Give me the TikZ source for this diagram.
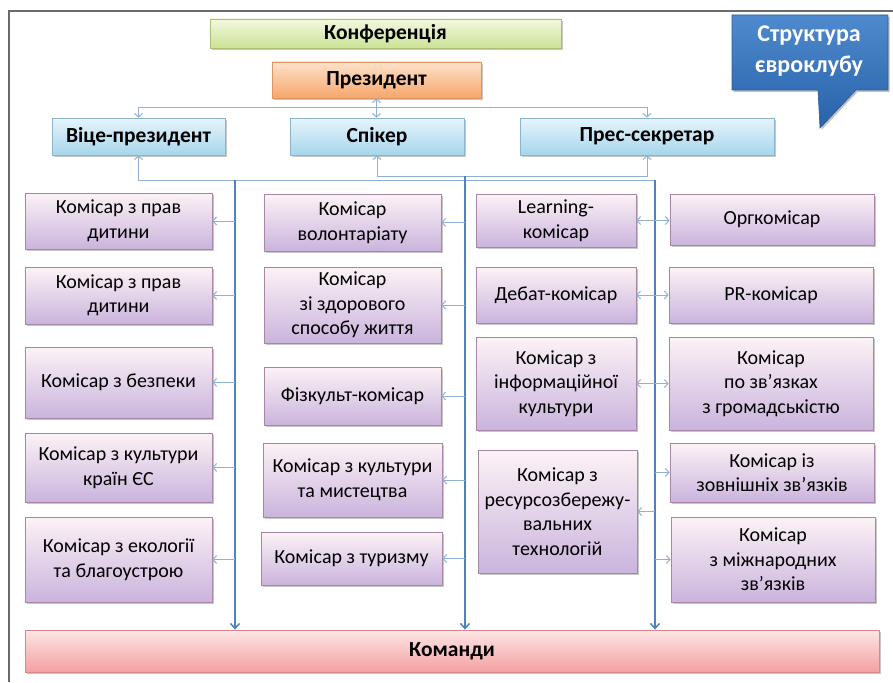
\documentclass[tikz,border=0pt]{standalone}
\usepackage{fontspec}
\setmainfont{Carlito}
\usetikzlibrary{arrows.meta,shadows}
\definecolor{brc}{HTML}{8FB1D3}
\definecolor{trc}{HTML}{4F81BD}
\definecolor{frc}{HTML}{6B6B6B}
\tikzset{
  base/.style={draw, line width=0.8pt, inner sep=2pt, align=center, text=black,
    font=\fontsize{20}{24.5}\selectfont,
    drop shadow={shadow xshift=1.6pt, shadow yshift=-1.8pt, fill=black, opacity=0.22}},
  pbox/.style={base, draw=violet!35!gray!70, top color=purple!5!white, bottom color={rgb,255:red,202;green,180;blue,221}},
  bbox/.style={base, draw={rgb,255:red,140;green,180;blue,205}, top color={rgb,255:red,230;green,244;blue,251}, bottom color={rgb,255:red,166;green,214;blue,236}, font=\fontsize{21.5}{25}\selectfont\bfseries},
  gbox/.style={base, draw={rgb,255:red,170;green,190;blue,120}, top color={rgb,255:red,243;green,248;blue,224}, bottom color={rgb,255:red,203;green,226;blue,150}, font=\fontsize{21.5}{25}\selectfont\bfseries},
  obox/.style={base, draw={rgb,255:red,220;green,150;blue,100}, top color={rgb,255:red,253;green,226;blue,202}, bottom color={rgb,255:red,246;green,166;blue,108}, font=\fontsize{21.5}{25}\selectfont\bfseries},
  kbox/.style={base, draw={rgb,255:red,215;green,135;blue,135}, top color={rgb,255:red,253;green,230;blue,230}, bottom color={rgb,255:red,243;green,160;blue,160}, font=\fontsize{21.5}{25}\selectfont\bfseries},
  br/.style={draw=brc, line width=1pt, arrows={-Straight Barb[length=3.5pt,width=8pt]}},
  brr/.style={draw=brc, line width=1pt, arrows={Straight Barb[length=3.5pt,width=8pt]-Straight Barb[length=3.5pt,width=8pt]}},
  brl/.style={draw=brc, line width=1pt},
  trunk/.style={draw=trc, line width=1.5pt, arrows={-Straight Barb[length=5pt,width=9pt]}},
}
\begin{document}
\begin{tikzpicture}[x=1pt,y=-1pt]
\useasboundingbox (0,0) rectangle (893,682);
\fill[white] (0,0) rectangle (893,682);
% frame
\draw[frc, line width=1.5pt] (9,682) -- (9,11) -- (893,11);

% callout
\draw[draw={rgb,255:red,40;green,92;blue,155}, line width=0.6pt, top color={rgb,255:red,78;green,138;blue,205}, bottom color={rgb,255:red,40;green,98;blue,170},
  drop shadow={shadow xshift=1.6pt, shadow yshift=-1.8pt, fill=black, opacity=0.25}]
  (732,15) -- (888,15) -- (888,90) -- (856,90) -- (820,128) -- (818,90) -- (732,90) -- cycle;
\node[text=white, align=center, font=\fontsize{24}{31}\selectfont\bfseries] (title) at (809,51) {Структура\\євроклубу};

% top boxes
\node[gbox, minimum width=351, minimum height=29] (conf) at (385.5,33.5) {Конференція};
\node[obox, minimum width=209, minimum height=36] (pres) at (376.5,80) {Президент};
\node[bbox, minimum width=173, minimum height=37] (vp) at (138.5,136.5) {Віце-президент};
\node[bbox, minimum width=174, minimum height=37] (spk) at (377,136.5) {Спікер};
\node[bbox, minimum width=254, minimum height=37] (ps) at (647,136.5) {Прес-секретар};

% left column
\node[pbox, minimum width=187, minimum height=56] (L1) at (118.5,221) {Комісар з прав\\дитини};
\node[pbox, minimum width=187, minimum height=57] (L2) at (118.5,295.5) {Комісар з прав\\дитини};
\node[pbox, minimum width=187, minimum height=71] (L3) at (118.5,382.5) {Комісар з безпеки};
\node[pbox, minimum width=187, minimum height=69] (L4) at (118.5,467.5) {Комісар з культури\\країн ЄС};
\node[pbox, minimum width=187, minimum height=85] (L5) at (118.5,559.5) {Комісар з екології\\та благоустрою};

% middle-left column
\node[pbox, minimum width=177, minimum height=57] (M1) at (352.5,222.5) {Комісар\\волонтаріату};
\node[pbox, minimum width=177, minimum height=76] (M2) at (352.5,305) {Комісар\\зі здорового\\способу життя};
\node[pbox, minimum width=177, minimum height=58] (M3) at (352.5,396) {Фізкульт-комісар};
\node[pbox, minimum width=179, minimum height=74] (M4) at (352.5,480) {Комісар з культури\\та мистецтва};
\node[pbox, minimum width=181, minimum height=53] (M5) at (351.5,558.5) {Комісар з туризму};

% middle-right column
\node[pbox, minimum width=160, minimum height=53] (R1) at (556,220.5) {Learning-\\комісар};
\node[pbox, minimum width=160, minimum height=56] (R2) at (556,295) {Дебат-комісар};
\node[pbox, minimum width=160, minimum height=93] (R3) at (556,383.5) {Комісар з\\інформаційної\\культури};
\node[pbox, minimum width=159, minimum height=123] (R4) at (557.5,511.5) {Комісар з\\ресурсозбережу-\\вальних\\технологій};

% right column
\node[pbox, minimum width=204, minimum height=51] (F1) at (772,219.5) {Оргкомісар};
\node[pbox, minimum width=204, minimum height=56] (F2) at (771,295) {PR-комісар};
\node[pbox, minimum width=204, minimum height=93] (F3) at (771,383.5) {Комісар\\по зв’язках\\з громадськістю};
\node[pbox, minimum width=204, minimum height=59] (F4) at (772,472.5) {Комісар із\\зовнішніх зв’язків};
\node[pbox, minimum width=204, minimum height=85] (F5) at (773,559.5) {Комісар\\з міжнародних\\зв’язків};

% teams
\node[kbox, minimum width=854, minimum height=42] (K) at (452,651) {Команди};

% top connectors
\draw[brr] (pres.south) -- (pres.south |- spk.north);
\coordinate (tb) at (376.5,108);
\draw[br] (tb) -| (vp.north);
\draw[br] (tb) -| (ps.north);

% trunk tops
\coordinate (ta) at (235,180);
\coordinate (tm) at (465,176);
\coordinate (tr) at (655,180);
\draw[br] (ta) -| (vp.south);
\draw[brl] (ta) -- (tr);
\draw[br] (tm) -| (spk.south);
\draw[br] (tm) -| (ps.south);

% trunks
\draw[trunk] (ta) -- (ta |- K.north);
\draw[trunk] (tm) -- (tm |- K.north);
\draw[trunk] (tr) -- (tr |- K.north);

% left branches
\foreach \n in {L1,L2,L3,L4,L5} { \draw[br] (\n.east -| ta) -- (\n.east); }
% middle branches
\foreach \n in {M1,M2,M3,M4,M5} { \draw[br] (\n.east -| tm) -- (\n.east); }
% right side
\foreach \a/\b in {R1/F1,R2/F2,R3/F3} { \draw[brr] (\a.east) -- (\a.east -| \b.west); }
\draw[br] (R4.east -| tr) -- (R4.east);
\draw[br] (F4.west -| tr) -- (F4.west);
\draw[br] (F5.west -| tr) -- (F5.west);
\end{tikzpicture}
\end{document}
